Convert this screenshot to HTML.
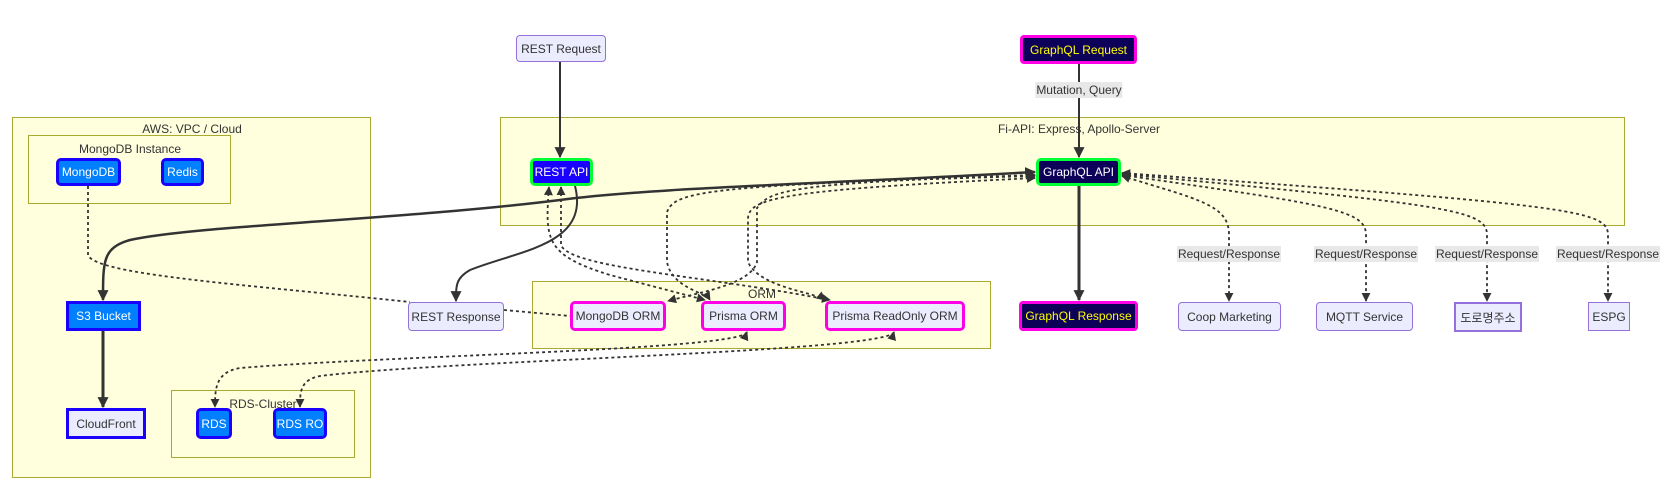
<!DOCTYPE html>
<html><head><meta charset="utf-8"><style>
html,body{margin:0;padding:0;background:#fff;}
body{width:1670px;height:499px;position:relative;overflow:hidden;font-family:"Liberation Sans","Noto Sans CJK KR",sans-serif;font-size:12px;color:#333;}
.c{position:absolute;background:#ffffde;border:1px solid #aaaa33;box-sizing:border-box;}
.t{position:absolute;text-align:center;white-space:nowrap;transform:translateX(-50%);font-size:12px;color:#333;}
.n{position:absolute;box-sizing:border-box;display:flex;align-items:center;justify-content:center;white-space:nowrap;font-size:12px;}
.p{background:#ececff;border:1px solid #9370db;border-radius:4px;color:#333;}
.b{background:#0080ff;border:3px solid #1a00ff;border-radius:5px;color:#fff;}
.sq{border-radius:0;}
.o{background:#ececff;border:3px solid #ff00e6;border-radius:5px;color:#333;}
.g{background:#0c0059;border:3px solid #ff00e6;border-radius:4px;color:#ffff00;}
.api{border:3px solid #00ff33;border-radius:5px;color:#fff;}
.lbl{position:absolute;background:#e8e8e8;transform:translate(-50%,-50%);white-space:nowrap;font-size:12px;color:#333;padding:1px 1px;}
svg{position:absolute;left:0;top:0;}
</style></head><body>
<div class="c" style="left:12px;top:117px;width:359px;height:361px"></div>
<div class="t" style="left:192px;top:122px">AWS: VPC / Cloud</div>
<div class="c" style="left:28px;top:135px;width:203px;height:69px"></div>
<div class="t" style="left:130px;top:142px">MongoDB Instance</div>
<div class="c" style="left:171px;top:390px;width:184px;height:68px"></div>
<div class="c" style="left:500px;top:117px;width:1125px;height:109px"></div>
<div class="t" style="left:1079px;top:122px">Fi-API: Express, Apollo-Server</div>
<div class="c" style="left:532px;top:281px;width:459px;height:68px"></div>

<svg width="1670" height="499" viewBox="0 0 1670 499">
<defs>
<marker id="a" viewBox="0 0 10 10" refX="9" refY="5" markerWidth="9" markerHeight="9" orient="auto-start-reverse" markerUnits="userSpaceOnUse"><path d="M0,0 L10,5 L0,10 z" fill="#333"/></marker>
<marker id="A" viewBox="0 0 10 10" refX="9" refY="5" markerWidth="11" markerHeight="11" orient="auto-start-reverse" markerUnits="userSpaceOnUse"><path d="M0,0 L10,5 L0,10 z" fill="#333"/></marker>
</defs>
<g fill="none" stroke="#333" stroke-width="2">
<path d="M560,62 L560,157" marker-end="url(#A)"/>
<path d="M1079,63 L1079,157" marker-end="url(#A)"/>
<path d="M1079,186 L1079,300" stroke-width="3" marker-end="url(#A)"/>
<path d="M103,331 L103,407" stroke-width="3" marker-end="url(#A)"/>
<path d="M575,186 C590,245 520,250 470,270 C456,278 456,285 456,301" marker-end="url(#A)"/>
<path d="M1035,172 C800,185 650,188 560,200 C400,220 200,225 130,240 C103,248 103,260 103,300" stroke-width="2.5" marker-end="url(#A)" marker-start="url(#A)"/>
</g>
<g fill="none" stroke="#333" stroke-width="1.8" stroke-dasharray="3,3">
<path d="M88,186 L88,255 C95,275 250,285 410,302"/>
<path d="M504,310 L570,316"/>
<path d="M549,187 C545,240 545,255 610,275 L705,300" marker-end="url(#a)" marker-start="url(#a)"/>
<path d="M561,187 L561,245 C570,268 700,275 830,300" marker-end="url(#a)" marker-start="url(#a)"/>
<path d="M1035,175 C790,183 770,190 757,208 L757,262 C750,285 700,292 668,301" marker-end="url(#a)" marker-start="url(#a)"/>
<path d="M1035,176 C700,185 675,192 667,212 L667,262 C672,288 705,292 710,300" marker-end="url(#a)" marker-start="url(#a)"/>
<path d="M1035,178 C780,190 750,198 748,218 L748,262 C760,288 815,292 825,300" marker-end="url(#a)" marker-start="url(#a)"/>
<path d="M747,332 C740,350 400,355 240,368 C215,372 215,390 215,407" marker-end="url(#a)" marker-start="url(#a)"/>
<path d="M894,332 C888,352 450,360 320,376 C300,380 300,392 300,407" marker-end="url(#a)" marker-start="url(#a)"/>
<path d="M1122,176 C1200,200 1229,205 1229,235 L1229,301" marker-end="url(#a)" marker-start="url(#a)"/>
<path d="M1122,175 C1330,205 1366,210 1366,235 L1366,301" marker-end="url(#a)" marker-start="url(#a)"/>
<path d="M1122,174 C1450,205 1487,210 1487,235 L1487,301" marker-end="url(#a)" marker-start="url(#a)"/>
<path d="M1122,173 C1570,205 1608,210 1608,235 L1608,301" marker-end="url(#a)" marker-start="url(#a)"/>
</g>
</svg>
<div class="t" style="left:263px;top:397px">RDS-Cluster</div>
<div class="t" style="left:762px;top:287px">ORM</div>

<div class="lbl" style="left:1079px;top:90px">Mutation, Query</div>
<div class="lbl" style="left:1229px;top:254px">Request/Response</div>
<div class="lbl" style="left:1366px;top:254px">Request/Response</div>
<div class="lbl" style="left:1487px;top:254px">Request/Response</div>
<div class="lbl" style="left:1608px;top:254px">Request/Response</div>

<div class="n p" style="left:516px;top:35px;width:90px;height:27px">REST Request</div>
<div class="n g" style="left:1020px;top:35px;width:117px;height:29px">GraphQL Request</div>
<div class="n api" style="left:530px;top:158px;width:63px;height:28px;background:#1a00ff">REST API</div>
<div class="n api" style="left:1036px;top:158px;width:85px;height:28px;background:#0c0059">GraphQL API</div>
<div class="n b" style="left:56px;top:158px;width:65px;height:28px">MongoDB</div>
<div class="n b" style="left:161px;top:158px;width:43px;height:28px">Redis</div>
<div class="n b sq" style="left:66px;top:301px;width:75px;height:30px">S3 Bucket</div>
<div class="n p sq" style="left:66px;top:408px;width:80px;height:31px;border:3px solid #1a00ff">CloudFront</div>
<div class="n b" style="left:196px;top:408px;width:36px;height:31px">RDS</div>
<div class="n b" style="left:273px;top:408px;width:54px;height:31px">RDS RO</div>
<div class="n p" style="left:408px;top:302px;width:96px;height:29px">REST Response</div>
<div class="n o" style="left:570px;top:301px;width:96px;height:30px">MongoDB ORM</div>
<div class="n o" style="left:701px;top:301px;width:85px;height:30px">Prisma ORM</div>
<div class="n o" style="left:825px;top:301px;width:140px;height:30px">Prisma ReadOnly ORM</div>
<div class="n g" style="left:1019px;top:301px;width:119px;height:30px">GraphQL Response</div>
<div class="n p" style="left:1178px;top:302px;width:103px;height:29px">Coop Marketing</div>
<div class="n p" style="left:1316px;top:302px;width:97px;height:29px">MQTT Service</div>
<div class="n p sq" style="left:1454px;top:302px;width:68px;height:30px;border-width:2px">도로명주소</div>
<div class="n p sq" style="left:1588px;top:302px;width:42px;height:29px">ESPG</div>
</body></html>
